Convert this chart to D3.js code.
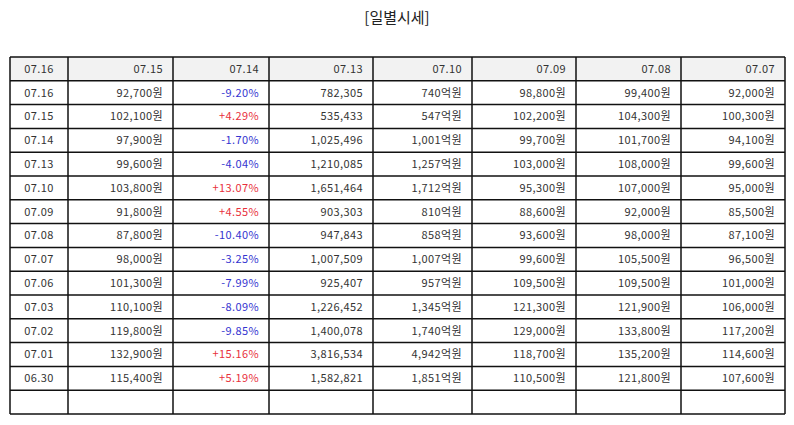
<!DOCTYPE html>
<html>
<head>
<meta charset="utf-8">
<script src="https://cdn.jsdelivr.net/npm/d3@7"></script>
<style>
body { margin: 0; background: #fff; }
svg text { font-family: "Noto Sans CJK KR", "Noto Sans", sans-serif; }
</style>
</head>
<body>
<svg id="chart" width="794" height="425"></svg>
<script>
// table data
var headers = ["07.16", "07.15", "07.14", "07.13", "07.10", "07.09", "07.08", "07.07"];
var dates   = ["07.16", "07.15", "07.14", "07.13", "07.10", "07.09", "07.08", "07.07", "07.06", "07.03", "07.02", "07.01", "06.30"];
var closes  = [92700, 102100, 97900, 99600, 103800, 91800, 87800, 98000, 101300, 110100, 119800, 132900, 115400];
var changes = [-9.20, 4.29, -1.70, -4.04, 13.07, 4.55, -10.40, -3.25, -7.99, -8.09, -9.85, 15.16, 5.19];
var volumes = [782305, 535433, 1025496, 1210085, 1651464, 903303, 947843, 1007509, 925407, 1226452, 1400078, 3816534, 1582821];
var amounts = [740, 547, 1001, 1257, 1712, 810, 858, 1007, 957, 1345, 1740, 4942, 1851]; // 억원
var opens   = [98800, 102200, 99700, 103000, 95300, 88600, 93600, 99600, 109500, 121300, 129000, 118700, 110500];
var highs   = [99400, 104300, 101700, 108000, 107000, 92000, 98000, 105500, 109500, 121900, 133800, 135200, 121800];
var lows    = [92000, 100300, 94100, 99600, 95000, 85500, 87100, 96500, 101000, 106000, 117200, 114600, 107600];
var colWidths = [58, 105, 96, 104, 99, 104, 105, 104];

var svg = d3.select("#chart");
var fmt = d3.format(",");
var tLeft = 10, tTop = 57, tBottom = 414;

// column edges
var edges = [tLeft];
colWidths.forEach(function(w){ edges.push(edges[edges.length-1] + w); });

// rows: header + data + one empty row
var rowKeys = ["h"].concat(dates.map(function(d, i){ return i; })).concat(["e"]);
var y = d3.scaleBand().domain(rowKeys).range([tTop, tBottom]);

// title
svg.append("text")
	.attr("x", 397).attr("y", 23)
	.attr("text-anchor", "middle")
	.attr("font-size", 15)
	.attr("fill", "#222")
	.text("[일별시세]");

// header background
svg.append("rect")
	.attr("x", tLeft).attr("y", y("h"))
	.attr("width", edges[edges.length-1] - tLeft).attr("height", y.bandwidth())
	.attr("fill", "#f2f2f2");

// cell rows
var rows = dates.map(function(d, i){
	var c = changes[i];
	return [
		{ t: d },
		{ t: fmt(closes[i]) + "원" },
		{ t: (c > 0 ? "+" : "") + c.toFixed(2) + "%", color: c > 0 ? "#e8303c" : "#3434d0" },
		{ t: fmt(volumes[i]) },
		{ t: fmt(amounts[i]) + "억원" },
		{ t: fmt(opens[i]) + "원" },
		{ t: fmt(highs[i]) + "원" },
		{ t: fmt(lows[i]) + "원" }
	];
});
var allRows = [headers.map(function(h){ return { t: h }; })].concat(rows);

allRows.forEach(function(r, ri){
	var key = rowKeys[ri];
	svg.selectAll(null)
		.data(r)
		.enter().append("text")
		.attr("x", function(d, ci){
			return ci == 0 ? (edges[0] + edges[1]) / 2 : edges[ci+1] - 10;
		})
		.attr("y", y(key) + y.bandwidth() / 2)
		.attr("dy", "0.36em")
		.attr("text-anchor", function(d, ci){ return ci == 0 ? "middle" : "end"; })
		.attr("font-size", 11)
		.attr("letter-spacing", 0.4)
		.attr("fill", function(d){ return d.color || "#333"; })
		.text(function(d){ return d.t; });
});

// grid lines
svg.selectAll(".hline")
	.data(rowKeys.map(function(k){ return y(k); }).concat([tBottom]))
	.enter().append("line")
	.attr("x1", tLeft).attr("x2", edges[edges.length-1])
	.attr("y1", function(d){ return d; }).attr("y2", function(d){ return d; })
	.attr("stroke", "#111").attr("stroke-width", 1.5);

svg.selectAll(".vline")
	.data(edges)
	.enter().append("line")
	.attr("x1", function(d){ return d; }).attr("x2", function(d){ return d; })
	.attr("y1", tTop).attr("y2", tBottom)
	.attr("stroke", "#111").attr("stroke-width", 1.5);
</script>
</body>
</html>
